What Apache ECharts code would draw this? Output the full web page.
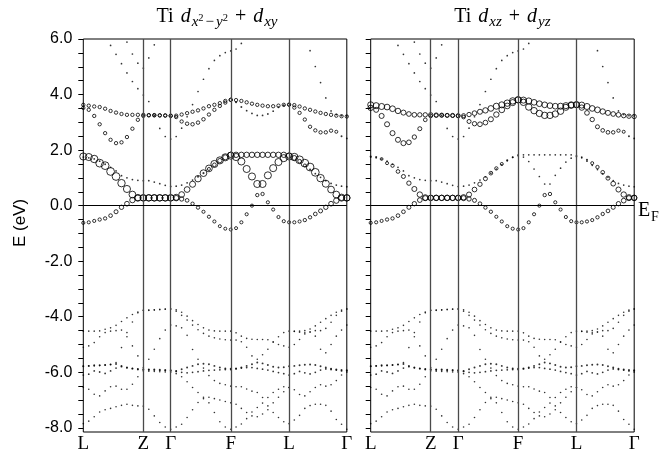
<!DOCTYPE html>
<html><head><meta charset="utf-8">
<script src="https://cdn.jsdelivr.net/npm/echarts@6/dist/echarts.min.js"></script>
<style>html,body{margin:0;padding:0;background:#fff}#c{width:662px;height:454px}</style>
</head><body><div id="c"></div>
<script>
// ---------- k-path ----------
const kLabels = ['L', 'Z', 'Γ', 'F', 'L', 'Γ'];
const segLen = [60, 27.4, 60, 58.3, 57.7];     // path length of each segment
const segSteps = [11, 5, 11, 11, 11];           // k-point intervals per segment

// ---------- energy axis ----------
const yLabelValues = [-8, -6, -4, -2, 0, 2, 4, 6];
const yTickValues = [-8, -7.5, -7, -6.5, -6, -5.5, -5, -4.5, -4, -3.5, -3, -2.5, -2, -1.5, -1, -0.5, 0,
  0.5, 1, 1.5, 2, 2.5, 3, 3.5, 4, 4.5, 5, 5.5, 6];

// ---------- band energies (eV), 50 k-points: L-Z | Z-Γ | Γ-F | F-L | L-Γ ----------
const C1 = [-0.62,-0.6,-0.55,-0.5,-0.46,-0.36,-0.22,-0.06,0.07,0.2,0.27,0.28,
  0.28,0.28,0.28,0.28,0.28,
  0.27,0.24,0.19,0.07,-0.07,-0.22,-0.4,-0.57,-0.74,-0.83,-0.86,
  -0.81,-0.6,-0.31,0.0,0.38,0.42,0.12,-0.14,-0.41,-0.56,-0.6,
  -0.6,-0.57,-0.52,-0.42,-0.3,-0.19,-0.06,0.07,0.18,0.27,0.28];
const C2 = [1.77,1.75,1.68,1.53,1.44,1.23,1.05,0.81,0.6,0.4,0.29,0.28,
  0.28,0.28,0.28,0.28,0.28,
  0.3,0.4,0.58,0.77,0.97,1.17,1.34,1.5,1.63,1.74,1.8,
  1.75,1.59,1.32,1.05,0.78,0.78,1.09,1.35,1.57,1.71,1.77,
  1.75,1.65,1.53,1.39,1.2,0.99,0.79,0.58,0.4,0.3,0.28];
const C3 = [1.75,1.72,1.68,1.6,1.49,1.38,1.25,1.08,1.0,0.94,0.91,0.9,
  0.9,0.85,0.79,0.73,0.69,
  0.7,0.74,0.82,0.92,1.04,1.17,1.32,1.47,1.62,1.74,1.83,
  1.83,1.83,1.83,1.83,1.83,1.83,1.83,1.83,1.83,1.83,1.8,
  1.72,1.6,1.45,1.3,1.15,1.02,0.9,0.8,0.74,0.7,0.68];
const UA = [3.63,3.6,3.57,3.55,3.49,3.41,3.35,3.3,3.27,3.27,3.27,3.27,
  3.26,3.26,3.25,3.25,3.24,
  3.24,3.28,3.33,3.38,3.43,3.5,3.58,3.63,3.69,3.77,3.81,
  3.8,3.77,3.72,3.67,3.63,3.6,3.58,3.58,3.6,3.63,3.64,
  3.62,3.57,3.5,3.45,3.39,3.34,3.3,3.27,3.24,3.22,3.21];
const UB = [3.52,3.45,3.23,2.93,2.61,2.37,2.25,2.28,2.47,2.77,3.09,3.23,
  3.25,3.25,3.25,3.24,3.23,
  3.19,3.03,2.95,2.93,2.99,3.11,3.28,3.45,3.59,3.71,3.81,
  3.72,3.55,3.42,3.32,3.25,3.25,3.3,3.4,3.54,3.61,3.63,
  3.53,3.34,3.1,2.84,2.71,2.64,2.64,2.7,2.66,2.5,2.42];
const U1 = [null,null,null,null,null,5.77,5.45,5.11,4.78,4.47,4.21,3.98,
  3.75,3.25,2.78,2.49,2.4,
  2.49,2.79,3.2,3.64,4.11,4.55,4.93,5.23,5.4,5.51,5.57,
  5.64,5.84,null,null,null,null,null,null,null,null,null,
  null,null,null,5.58,5.01,4.43,3.88,3.41,3.28,3.24,3.23];
const T2 = [null,null,null,null,null,null,null,null,5.89,5.46,5.13,4.95,
  5.32,5.79,null,null,null,
  null,null,null,null,null,null,null,null,null,null,null,
  null,null,null,null,null,null,null,null,null,null,null,
  null,null,null,null,null,null,null,null,null,null,null];
const Va = [-4.52,-4.52,-4.52,-4.51,-4.45,-4.4,-4.31,-4.17,-4.04,-3.92,-3.83,-3.77,
  -3.76,-3.75,-3.73,-3.72,-3.72,
  -3.75,-3.84,-3.98,-4.14,-4.28,-4.4,-4.48,-4.51,-4.52,-4.52,-4.52,
  -4.58,-4.7,-4.78,-4.81,-4.82,-4.82,-4.83,-4.9,-5.0,-5.05,-5.1,
  -4.52,-4.52,-4.5,-4.44,-4.33,-4.2,-4.07,-3.95,-3.84,-3.76,-3.72];
const Vf = [-5.78,-5.77,-5.77,-5.76,-5.74,-5.72,-5.65,-5.11,-4.72,-4.19,-3.86,-3.77,
  -3.77,-3.76,-3.75,-3.73,-3.72,
  -3.8,-3.95,-4.12,-4.3,-4.47,-4.6,-4.7,-4.76,-4.8,-4.83,-4.84,
  -4.84,-4.9,-5.1,-5.41,-5.53,-5.37,-5.17,-4.92,-4.72,-4.57,-4.52,
  -4.53,-4.56,-4.58,-4.55,-4.5,-4.5,-4.42,-4.2,-3.95,-3.8,-3.72];
const Vb = [-5.1,-5.05,-4.93,-4.72,-4.57,-4.52,-4.5,-4.48,-4.57,-5.05,-5.41,-5.83,
  -5.53,-5.17,-4.79,-4.48,-4.3,
  -4.33,-4.4,-4.67,-5.18,-5.53,-5.85,-6.12,-6.3,-6.4,-6.45,-6.5,
  -6.52,-6.52,-6.6,-6.68,-6.73,-6.91,-6.91,-6.73,-6.61,-6.52,-6.55,
  -5.0,-4.82,-4.62,-4.55,-4.7,-5.17,-5.3,-5.0,-4.7,-4.48,-4.3];
const Vc = [-5.78,-5.77,-5.75,-5.75,-5.74,-5.72,-5.7,-5.77,-5.83,-5.86,-5.88,-5.89,
  -5.9,-5.9,-5.91,-5.92,-5.93,
  -5.95,-5.89,-5.83,-5.77,-5.71,-5.69,-5.71,-5.77,-5.83,-5.86,-5.87,
  -5.86,-5.83,-5.77,-5.71,-5.65,-5.68,-5.74,-5.8,-5.83,-5.82,-5.78,
  -5.77,-5.75,-5.73,-5.72,-5.74,-5.78,-5.83,-5.87,-5.9,-5.92,-5.93];
const Vd = [-6.1,-6.07,-5.95,-5.99,-6.04,-5.95,-5.85,-5.8,-5.84,-5.87,-5.9,-5.91,
  -5.91,-5.92,-5.93,-5.94,-5.95,
  -5.97,-6.0,-6.02,-6.0,-5.98,-5.95,-5.93,-5.92,-5.91,-5.9,-5.9,
  -5.88,-5.85,-5.83,-5.83,-5.86,-5.89,-5.92,-5.97,-6.01,-6.05,-6.1,
  -6.05,-5.97,-6.02,-6.06,-6.0,-5.92,-5.88,-5.9,-5.92,-5.95,-5.95];
const Vg = [-6.55,-6.61,-6.79,-6.85,-6.67,-6.52,-6.5,-6.61,-6.61,-6.43,-6.16,-5.95,
  -5.96,-5.97,-5.98,-5.99,-6.0,
  -6.05,-6.16,-6.34,-6.55,-6.73,-6.9,-7.1,-7.45,-7.78,-7.97,-8.05,
  -7.97,-7.86,-7.67,-7.43,-7.27,-7.11,-7.21,-7.45,-7.63,-7.78,-7.85,
  -6.63,-6.8,-6.85,-6.7,-6.55,-6.45,-6.5,-6.45,-6.3,-6.1,-6.0];
const Vh = [-7.85,-7.76,-7.6,-7.43,-7.35,-7.3,-7.24,-7.19,-7.15,-7.19,-7.21,-7.22,
  -7.33,-7.57,-7.81,-7.97,-8.05,
  -7.97,-7.87,-7.63,-7.35,-7.09,-6.95,-6.9,-6.95,-7.0,-7.05,-7.1,
  -7.15,-7.3,-7.45,-7.57,-7.6,-7.5,-7.35,-7.1,-6.9,-6.7,-6.55,
  -7.72,-7.55,-7.3,-7.2,-7.15,-7.15,-7.19,-7.4,-7.7,-7.87,-8.05];

// ---------- orbital weights (0..1): left panel d(x2-y2)+d(xy), right panel d(xz)+d(yz) ----------
const wL_C1 = [0.17,0.17,0.17,0.2,0.2,0.25,0.3,0.35,0.4,0.5,0.6,0.65, 0.65,0.65,0.65,0.65,0.65,
  0.5,0.35,0.25,0.2,0.2,0.17,0.17,0.17,0.15,0.15,0.15, 0.15,0.17,0.17,0.17,0.2,0.2,0.17,0.17,0.17,0.17,0.17,
  0.17,0.17,0.2,0.2,0.25,0.3,0.35,0.4,0.5,0.6,0.65];
const wR_C1 = [0.17,0.17,0.17,0.2,0.2,0.25,0.25,0.3,0.35,0.4,0.45,0.5, 0.5,0.5,0.5,0.5,0.5,
  0.45,0.35,0.3,0.25,0.2,0.2,0.17,0.17,0.17,0.17,0.17, 0.17,0.17,0.17,0.17,0.2,0.2,0.17,0.17,0.17,0.17,0.17,
  0.17,0.17,0.17,0.2,0.2,0.25,0.3,0.35,0.4,0.45,0.5];
const wL_C2 = [0.75,0.75,0.8,0.85,0.85,0.85,0.85,0.8,0.75,0.7,0.65,0.65, 0.65,0.65,0.65,0.65,0.65,
  0.6,0.55,0.55,0.6,0.65,0.7,0.7,0.75,0.75,0.75,0.75, 0.75,0.75,0.75,0.75,0.75,0.75,0.75,0.75,0.75,0.75,0.75,
  0.8,0.85,0.85,0.85,0.85,0.8,0.75,0.7,0.7,0.65,0.65];
const wR_C2 = [0.1,0.1,0.12,0.15,0.2,0.25,0.3,0.35,0.45,0.5,0.55,0.5, 0.5,0.5,0.5,0.5,0.5,
  0.5,0.45,0.4,0.35,0.3,0.25,0.2,0.15,0.1,0.08,0.06, 0.05,0.05,0.05,0.05,0.05,0.05,0.05,0.05,0.05,0.05,0.05,
  0.06,0.1,0.15,0.2,0.25,0.3,0.4,0.45,0.5,0.5,0.5];
const wL_C3 = [0.06,0.06,0.06,0.06,0.06,0.06,0.06,0.06,0.06,0.06,0.06,0.06, 0.06,0.06,0.06,0.06,0.06,
  0.06,0.06,0.06,0.06,0.08,0.1,0.15,0.25,0.35,0.45,0.5, 0.5,0.5,0.5,0.5,0.5,0.5,0.5,0.5,0.5,0.5,0.5,
  0.4,0.25,0.12,0.08,0.06,0.06,0.06,0.06,0.06,0.06,0.06];
const wR_C3 = 0.05;
const wL_UA = 0.2;
const wR_UA = [0.6,0.6,0.6,0.55,0.55,0.5,0.45,0.4,0.4,0.35,0.35,0.35, 0.35,0.3,0.3,0.3,0.3,
  0.3,0.35,0.4,0.45,0.5,0.55,0.6,0.6,0.65,0.65,0.65, 0.6,0.6,0.55,0.55,0.55,0.55,0.55,0.6,0.6,0.6,0.6,
  0.6,0.6,0.55,0.55,0.5,0.45,0.4,0.4,0.35,0.35,0.35];
const wL_UB = [0.2,0.2,0.2,0.2,0.2,0.2,0.2,0.2,0.2,0.2,0.2,0.2, 0.2,0.2,0.2,0.2,0.2,
  0.2,0.2,0.22,0.22,0.22,0.22,0.2,0.2,0.2,0.2,0.2, 0.1,0.08,0.06,0.06,0.06,0.06,0.06,0.06,0.08,0.1,0.15,
  0.2,0.2,0.2,0.2,0.2,0.2,0.2,0.2,0.15,0.08,0.06];
const wR_UB = [0.5,0.45,0.45,0.45,0.45,0.45,0.45,0.4,0.35,0.3,0.25,0.25, 0.25,0.25,0.25,0.25,0.25,
  0.25,0.3,0.35,0.4,0.4,0.45,0.5,0.55,0.55,0.6,0.6, 0.65,0.65,0.65,0.65,0.65,0.65,0.65,0.65,0.6,0.6,0.6,
  0.5,0.4,0.35,0.3,0.25,0.25,0.22,0.2,0.15,0.08,0.06];
const wDot = 0.05;
const valenceBands = [Va, Vf, Vb, Vc, Vd, Vg, Vh];
const valenceW = [0.04, 0.04, 0.04, 0.08, 0.06, 0.04, 0.04];

// ---------- assemble ----------
const kDist = [0], kSym = [0];
let acc = 0;
segLen.forEach((len, s) => {
  for (let j = 1; j <= segSteps[s]; j++) kDist.push(acc + len * j / segSteps[s]);
  acc += len; kSym.push(acc);
});
const kTotal = acc;

const bands = [
  {E: C1, wL: wL_C1, wR: wR_C1}, {E: C2, wL: wL_C2, wR: wR_C2}, {E: C3, wL: wL_C3, wR: wR_C3},
  {E: UA, wL: wL_UA, wR: wR_UA}, {E: UB, wL: wL_UB, wR: wR_UB},
  {E: U1, wL: wDot, wR: wDot}, {E: T2, wL: wDot, wR: wDot}
];
valenceBands.forEach((E, i) => bands.push({E, wL: valenceW[i], wR: valenceW[i]}));

function panelSeries(gi, key) {
  const circles = [], dots = [];
  bands.forEach(b => {
    const w = b[key];
    b.E.forEach((e, i) => {
      if (e === null) return;
      const wi = Array.isArray(w) ? w[i] : w;
      if (wi >= 0.12) circles.push([kDist[i], e, 2 + 6.8 * wi]);
      else dots.push([kDist[i], e, 1.3 + 8 * wi]);
    });
  });
  const lines = kSym.slice(1, -1).map(x => ({xAxis: x, lineStyle: {color: '#4a4a4a', width: 1.3, type: 'solid'}}));
  lines.push({yAxis: 0, lineStyle: {color: '#000', width: 1, type: 'solid'}});
  return [
    {type: 'scatter', xAxisIndex: gi, yAxisIndex: gi, data: dots, symbol: 'circle',
      symbolSize: v => v[2], itemStyle: {color: '#000'}, silent: true, animation: false, z: 3,
      markLine: {silent: true, symbol: ['none', 'none'], label: {show: false}, animation: false,
        emphasis: {disabled: true}, data: lines}},
    {type: 'scatter', xAxisIndex: gi, yAxisIndex: gi, data: circles, symbol: 'circle',
      symbolSize: v => v[2], itemStyle: {color: 'rgba(0,0,0,0)', borderColor: '#000', borderWidth: 1},
      silent: true, animation: false, z: 4}
  ];
}

function xAxisFor(gi) {
  return {type: 'value', gridIndex: gi, min: 0, max: kTotal,
    axisLine: {show: false}, axisTick: {show: false}, splitLine: {show: false},
    axisLabel: {customValues: kSym, showMinLabel: true, showMaxLabel: true, margin: 3,
      formatter: v => { const j = kSym.findIndex(s => Math.abs(s - v) < 1e-6); return j >= 0 ? kLabels[j] : ''; },
      fontFamily: 'Liberation Serif', fontSize: 19, color: '#000'}};
}
function yAxisFor(gi, showLabels) {
  return {type: 'value', gridIndex: gi, min: -8.15, max: 6,
    axisLine: {show: false}, splitLine: {show: false},
    axisTick: {show: true, inside: false, length: 5, customValues: yTickValues, lineStyle: {color: '#000', width: 1}},
    axisLabel: {show: showLabels, customValues: yLabelValues, formatter: v => v.toFixed(1),
      fontFamily: 'Liberation Sans', fontSize: 16, color: '#000', margin: 11}};
}

// ---------- math-style titles ----------
const measureCtx = document.createElement('canvas').getContext('2d');
function mathText(pieces, cx, baseY) {
  const els = [];
  let w = 0;
  const parts = pieces.map(p => {
    if (p.sp) { w += p.sp; return null; }
    const font = (p.i ? 'italic ' : '') + p.s + 'px "Liberation Serif"';
    measureCtx.font = font;
    const pw = measureCtx.measureText(p.t).width;
    const item = {x: w, font, t: p.t, s: p.s, dy: p.dy || 0};
    w += pw;
    return item;
  }).filter(Boolean);
  const x0 = cx - w / 2;
  parts.forEach(p => {
    els.push({type: 'text', x: x0 + p.x, y: baseY + p.dy - 0.3 * p.s, silent: true,
      style: {text: p.t, font: p.font, fill: '#000', align: 'left', verticalAlign: 'middle',
        textAlign: 'left', textVerticalAlign: 'middle'}});
  });
  return els;
}
const titleLeft = [
  {t: 'Ti', s: 20}, {sp: 7}, {t: 'd', s: 20, i: 1}, {sp: 1}, {t: 'x', s: 15, i: 1, dy: 4}, {t: '2', s: 10.5, dy: -2},
  {sp: 2}, {t: '−', s: 15, dy: 4}, {sp: 2}, {t: 'y', s: 15, i: 1, dy: 4}, {t: '2', s: 10.5, dy: -2},
  {sp: 7}, {t: '+', s: 20}, {sp: 7}, {t: 'd', s: 20, i: 1}, {sp: 1}, {t: 'xy', s: 15, i: 1, dy: 4}
];
const titleRight = [
  {t: 'Ti', s: 20}, {sp: 7}, {t: 'd', s: 20, i: 1}, {sp: 1}, {t: 'xz', s: 15, i: 1, dy: 4},
  {sp: 7}, {t: '+', s: 20}, {sp: 7}, {t: 'd', s: 20, i: 1}, {sp: 1}, {t: 'yz', s: 15, i: 1, dy: 4}
];

const gridL = {left: 83.3, top: 39, width: 263.5, height: 394};
const gridR = {left: 370.7, top: 39, width: 263.5, height: 394};

const graphics = [].concat(
  mathText(titleLeft, gridL.left + gridL.width / 2 + 2, 23),
  mathText(titleRight, gridR.left + gridR.width / 2, 23),
  [
    {type: 'text', x: 20, y: 223, rotation: Math.PI / 2, silent: true,
      style: {text: 'E (eV)', font: '17px "Liberation Sans"', fill: '#000', align: 'center', verticalAlign: 'middle',
        textAlign: 'center', textVerticalAlign: 'middle'}},
    {type: 'text', x: 638, y: 211, silent: true,
      style: {text: 'E', font: '20px "Liberation Serif"', fill: '#000', align: 'left', verticalAlign: 'middle',
        textAlign: 'left', textVerticalAlign: 'middle'}},
    {type: 'text', x: 651, y: 217, silent: true,
      style: {text: 'F', font: '14px "Liberation Serif"', fill: '#000', align: 'left', verticalAlign: 'middle',
        textAlign: 'left', textVerticalAlign: 'middle'}}
  ]
);

const option = {
  backgroundColor: '#fff',
  animation: false,
  grid: [
    Object.assign({show: true, borderColor: '#000', borderWidth: 1, backgroundColor: 'rgba(0,0,0,0)'}, gridL),
    Object.assign({show: true, borderColor: '#000', borderWidth: 1, backgroundColor: 'rgba(0,0,0,0)'}, gridR)
  ],
  xAxis: [xAxisFor(0), xAxisFor(1)],
  yAxis: [yAxisFor(0, true), yAxisFor(1, false)],
  series: [].concat(panelSeries(0, 'wL'), panelSeries(1, 'wR')),
  graphic: graphics
};
const chart = echarts.init(document.getElementById('c'));
chart.setOption(option);
</script>
</body></html>
